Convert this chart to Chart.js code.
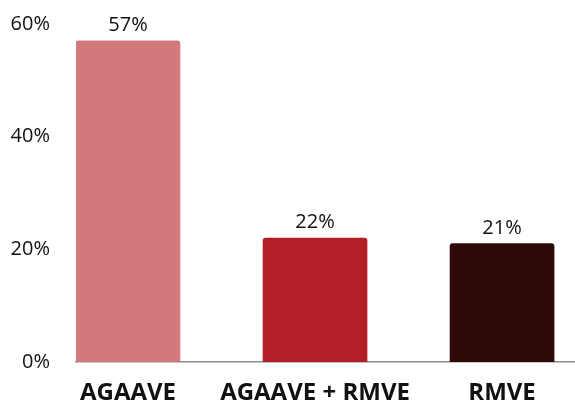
<!DOCTYPE html>
<html lang="en">
<head>
    <meta charset="UTF-8">
    <title>AGAAVE vs RMVE</title>
    <style>
        body {
            margin: 0;
            background: #fff;
            overflow: hidden;
        }
        .wrap {
            width: 575px;
            height: 405px;
        }
    </style>
    <script src="https://cdn.jsdelivr.net/npm/chart.js"></script>
</head>
<body>
    <div class="wrap">
        <canvas id="chart"></canvas>
    </div>

    <script>
        // Chart data
        const categories = ['AGAAVE', 'AGAAVE + RMVE', 'RMVE'];
        const shares = [57, 22, 21];
        const barColors = ['#d2797c', '#b21f26', '#2f0808'];
        const yTicks = [0, 20, 40, 60];

        // Value labels above the bars
        const valueLabels = {
            id: 'valueLabels',
            afterDatasetsDraw(chart) {
                const ctx = chart.ctx;
                const meta = chart.getDatasetMeta(0);
                ctx.save();
                ctx.font = '20px "Open Sans", sans-serif';
                ctx.fillStyle = '#111';
                ctx.textAlign = 'center';
                ctx.textBaseline = 'alphabetic';
                meta.data.forEach((bar, i) => {
                    ctx.fillText(shares[i] + '%', bar.x, bar.y - 10);
                });
                ctx.restore();
            }
        };

        new Chart(document.getElementById('chart'), {
            type: 'bar',
            data: {
                datasets: [{
                    data: shares.map((v, i) => ({ x: i, y: v })),
                    backgroundColor: barColors,
                    barThickness: 104,
                    borderRadius: 3,
                    borderSkipped: 'bottom'
                }]
            },
            options: {
                responsive: true,
                maintainAspectRatio: false,
                animation: false,
                layout: { padding: 0 },
                plugins: {
                    legend: { display: false },
                    tooltip: { enabled: false }
                },
                scales: {
                    x: {
                        type: 'linear',
                        offset: false,
                        min: -0.278,
                        max: 2.39,
                        grid: { display: false, drawTicks: false, offset: false },
                        border: { display: true, color: '#8c8c8c', width: 1.5 },
                        afterBuildTicks: (scale) => {
                            scale.ticks = categories.map((c, i) => ({ value: i }));
                        },
                        afterFit: (scale) => { scale.height = 43; },
                        ticks: {
                            padding: 17,
                            maxRotation: 0,
                            autoSkip: false,
                            color: '#111',
                            font: { family: '"Open Sans", sans-serif', size: 24, weight: 'bold' },
                            callback: (value) => categories[value]
                        }
                    },
                    y: {
                        min: 0,
                        max: 60,
                        grid: { display: false, drawTicks: false },
                        border: { display: false },
                        afterFit: (scale) => {
                            scale.width = 76;
                            scale.paddingTop = 24;
                            scale.paddingBottom = 0;
                        },
                        afterBuildTicks: (scale) => {
                            scale.ticks = yTicks.map(v => ({ value: v }));
                        },
                        ticks: {
                            padding: 26,
                            color: '#111',
                            font: { family: '"Open Sans", sans-serif', size: 20 },
                            callback: (value) => value + '%'
                        }
                    }
                }
            },
            plugins: [valueLabels]
        });
    </script>
</body>
</html>
